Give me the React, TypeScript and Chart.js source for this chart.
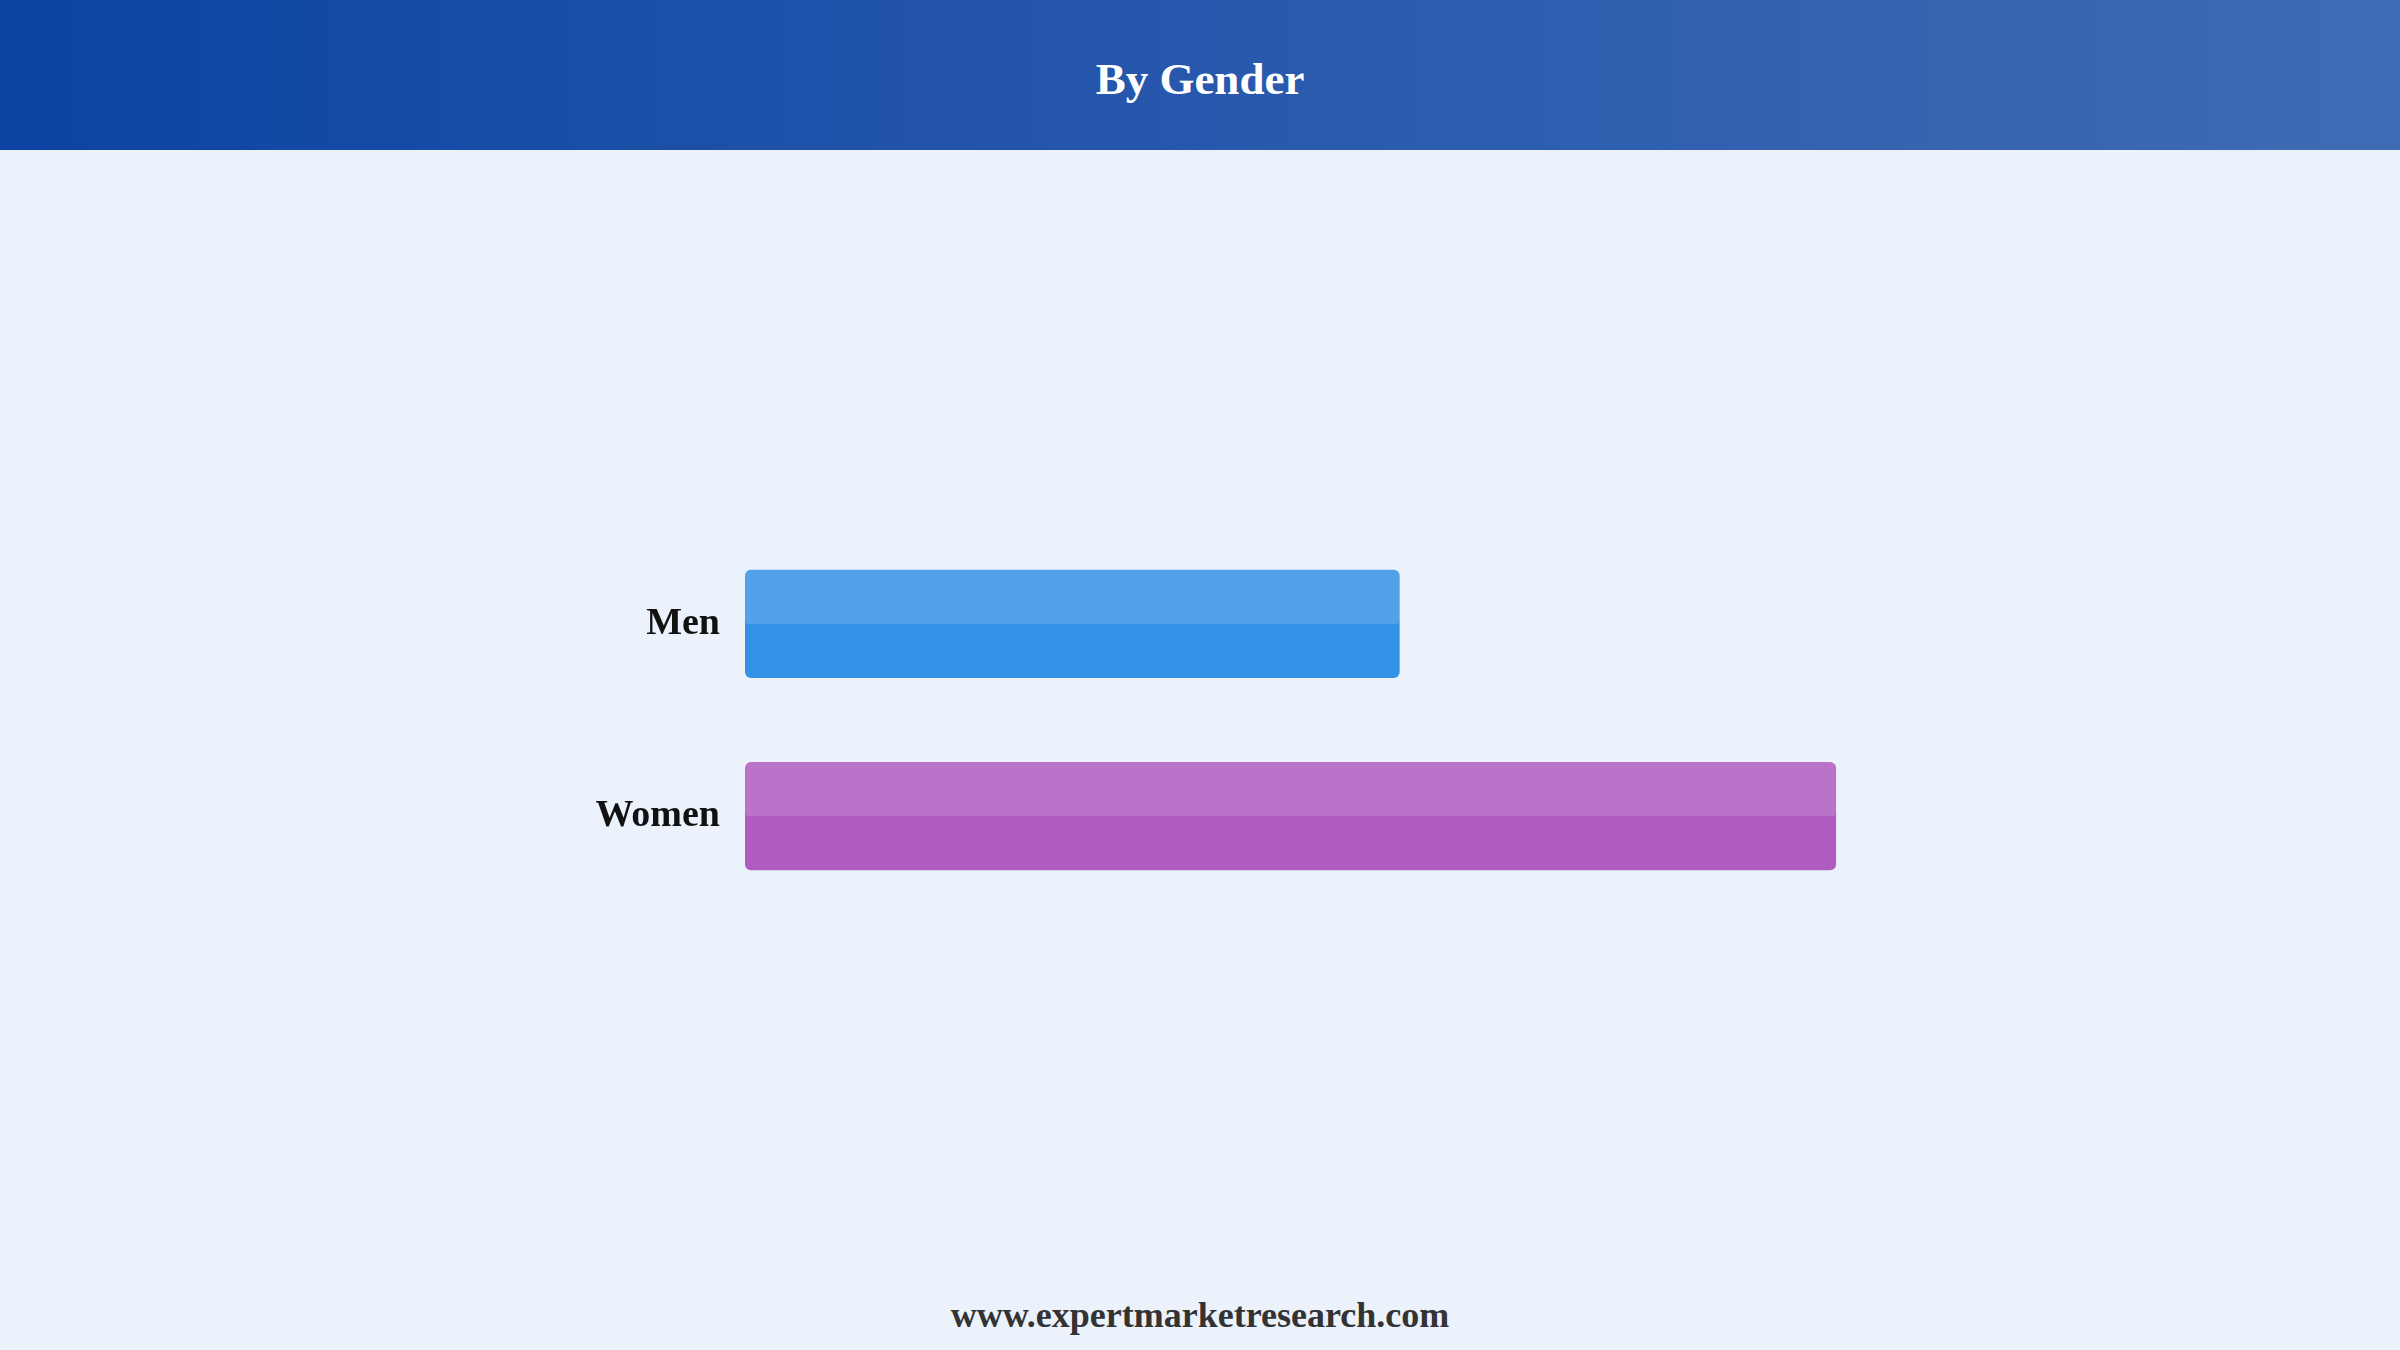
import { useEffect, useRef } from 'react';
import Chart from 'chart.js/auto';

// data
const categories = ['Men', 'Women'];
const shares = [37.5, 62.5];
const barColors = ['#3492E6', '#B05BC0'];
const axisMax = 70;

const serif = '"Liberation Serif", "Times New Roman", serif';

// lighter top half on each bar
const glossPlugin = {
    id: 'gloss',
    afterDatasetsDraw(chart: any) {
        const ctx = chart.ctx;
        const meta = chart.getDatasetMeta(0);
        meta.data.forEach((bar: any) => {
            const { x, y, base, height } = bar.getProps(['x', 'y', 'base', 'height'], true);
            const left = Math.min(base, x);
            const w = Math.abs(x - base);
            const top = y - height / 2;
            ctx.save();
            ctx.fillStyle = 'rgba(255, 255, 255, 0.15)';
            ctx.beginPath();
            ctx.roundRect(left, top, w, height / 2, [6, 6, 4, 4]);
            ctx.fill();
            ctx.restore();
        });
    }
};

export default function App() {
    const canvasRef = useRef<HTMLCanvasElement>(null);

    useEffect(() => {
        if (!canvasRef.current) return;
        const chart = new Chart(canvasRef.current as any, {
            type: 'bar',
            data: {
                labels: categories,
                datasets: [{
                    data: shares,
                    backgroundColor: barColors,
                    borderWidth: 0,
                    borderRadius: 6,
                    borderSkipped: false,
                    categoryPercentage: 0.75,
                    barPercentage: 0.75
                }]
            },
            options: {
                indexAxis: 'y',
                animation: false,
                responsive: true,
                maintainAspectRatio: false,
                layout: { padding: { left: 0, right: 433, top: 0, bottom: 0 } },
                plugins: {
                    legend: { display: false },
                    tooltip: { enabled: false }
                },
                scales: {
                    x: {
                        display: false,
                        min: 0,
                        max: axisMax
                    },
                    y: {
                        grid: { display: false, drawTicks: false },
                        border: { display: false },
                        ticks: {
                            padding: 25,
                            color: '#111111',
                            font: { family: serif, size: 38, weight: 'bold' }
                        },
                        afterFit: (scale: any) => { scale.width = 745; }
                    }
                }
            },
            plugins: [glossPlugin]
        });
        return () => chart.destroy();
    }, []);

    return (
        <div style={{ position: 'fixed', inset: 0, background: '#EBF2FC', fontFamily: serif }}>
            <div style={{
                position: 'absolute', left: 0, top: 0, width: '100%', height: '150px',
                background: 'linear-gradient(to right, #0B44A2, #2556AC 45%, #3E6CB4)',
                display: 'flex', alignItems: 'center', justifyContent: 'center'
            }}>
                <span style={{ color: '#ffffff', fontWeight: 'bold', fontSize: '45px', marginTop: '8px' }}>By Gender</span>
            </div>
            <div style={{ position: 'absolute', left: 0, top: '480px', width: '2400px', height: '480px' }}>
                <canvas ref={canvasRef}></canvas>
            </div>
            <div style={{
                position: 'absolute', left: 0, width: '100%', top: '1294px', textAlign: 'center',
                color: '#333333', fontWeight: 'bold', fontSize: '36px'
            }}>
                www.expertmarketresearch.com
            </div>
        </div>
    );
}
